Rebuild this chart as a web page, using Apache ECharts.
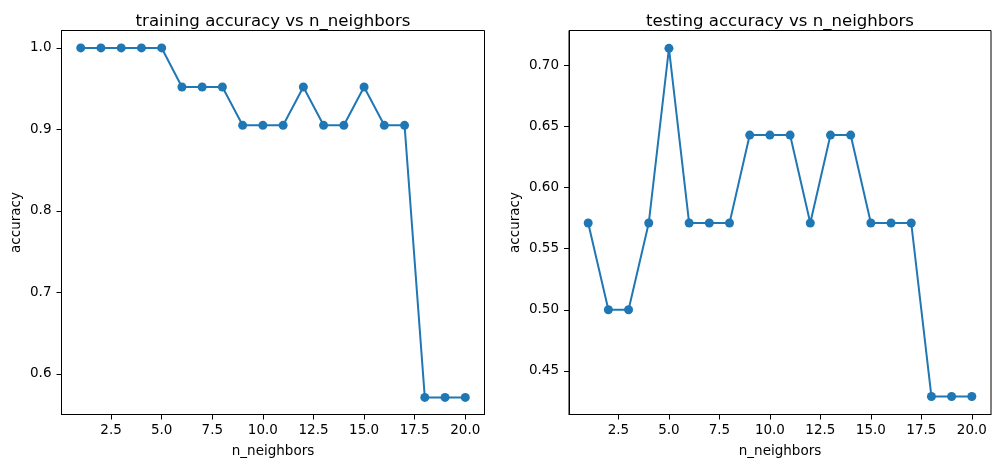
<!DOCTYPE html>
<html><head><meta charset="utf-8">
<script src="https://cdn.jsdelivr.net/npm/echarts@6/dist/echarts.min.js"></script>
<style>html,body{margin:0;padding:0;background:#fff}#c{width:1001px;height:468px}</style>
</head><body><div id="c"></div>
<script>
const neighbors = [1,2,3,4,5,6,7,8,9,10,11,12,13,14,15,16,17,18,19,20];
const trainAcc = [1.0,1.0,1.0,1.0,1.0,0.952,0.952,0.952,0.905,0.905,0.905,0.952,0.905,0.905,0.952,0.905,0.905,0.571,0.571,0.571];
const testAcc = [0.571,0.5,0.5,0.571,0.714,0.571,0.571,0.571,0.643,0.643,0.643,0.571,0.643,0.643,0.571,0.571,0.571,0.429,0.429,0.429];
const xTicks = [2.5,5.0,7.5,10.0,12.5,15.0,17.5,20.0];
const trainYTicks = [0.6,0.7,0.8,0.9,1.0];
const testYTicks = [0.45,0.50,0.55,0.60,0.65,0.70];
const titles = ['training accuracy vs n_neighbors','testing accuracy vs n_neighbors'];

const FONT = 'DejaVu Sans';
const FS = 13.5;
const C = '#1f77b4';
const chart = echarts.init(document.getElementById('c'));
const grids = [
  {left:61.5, top:30.5, width:423, height:384},
  {left:569, top:30.5, width:422, height:384}
];
function xAxis(i){
  return {type:'value', gridIndex:i, min:0.05, max:20.95,
    name:'n_neighbors', nameLocation:'middle', nameGap:30,
    nameTextStyle:{fontFamily:FONT,fontSize:FS,color:'#000'},
    axisLine:{show:true,onZero:false,lineStyle:{color:'#000',width:1}},
    axisTick:{show:true,length:5,customValues:xTicks,lineStyle:{color:'#000'}},
    axisLabel:{customValues:xTicks,margin:9,fontFamily:FONT,fontSize:FS,color:'#000',formatter:v=>v.toFixed(1)},
    splitLine:{show:false}};
}
function yAxis(i,min,max,ticks,dec,gap){
  return {type:'value', gridIndex:i, min:min, max:max,
    name:'accuracy', nameLocation:'middle', nameGap:gap,
    nameTextStyle:{fontFamily:FONT,fontSize:FS,color:'#000'},
    axisLine:{show:true,onZero:false,lineStyle:{color:'#000',width:1}},
    axisTick:{show:true,length:5,customValues:ticks,lineStyle:{color:'#000'}},
    axisLabel:{customValues:ticks,margin:10,fontFamily:FONT,fontSize:FS,color:'#000',formatter:v=>v.toFixed(dec)},
    splitLine:{show:false}};
}
const option = {
  animation:false,
  backgroundColor:'#fff',
  title:[
    {text:titles[0], left:268, top:8, textAlign:'center', textStyle:{fontFamily:FONT,fontSize:16.6,fontWeight:'normal',color:'#000'}},
    {text:titles[1], left:775, top:8, textAlign:'center', textStyle:{fontFamily:FONT,fontSize:16.6,fontWeight:'normal',color:'#000'}}
  ],
  grid: grids.map(g=>Object.assign({show:true,borderColor:'#000',borderWidth:1,backgroundColor:'transparent'},g)),
  xAxis:[xAxis(0),xAxis(1)],
  yAxis:[yAxis(0,0.55,1.0214,trainYTicks,1,38),yAxis(1,0.4143,0.7286,testYTicks,2,47)],
  series:[
    {type:'line', xAxisIndex:0, yAxisIndex:0, data:neighbors.map((n,i)=>[n,trainAcc[i]]),
     symbol:'circle', symbolSize:9, lineStyle:{color:C,width:2}, itemStyle:{color:C}},
    {type:'line', xAxisIndex:1, yAxisIndex:1, data:neighbors.map((n,i)=>[n,testAcc[i]]),
     symbol:'circle', symbolSize:9, lineStyle:{color:C,width:2}, itemStyle:{color:C}}
  ]
};
chart.setOption(option);
</script></body></html>
